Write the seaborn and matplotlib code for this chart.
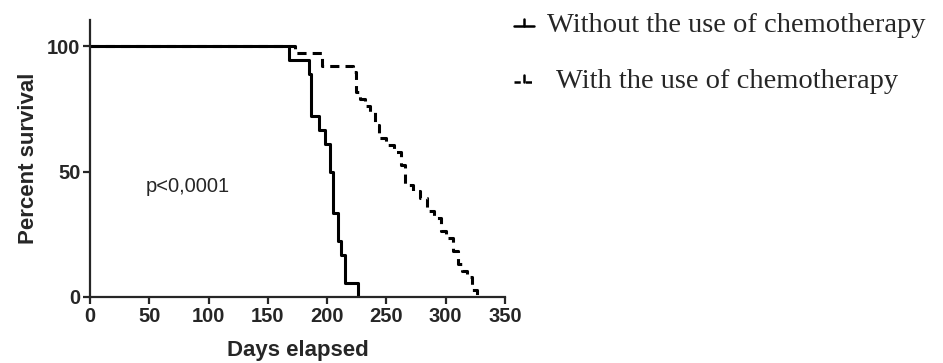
import numpy as np
import pandas as pd
import matplotlib
matplotlib.use("Agg")
import matplotlib.pyplot as plt
import seaborn as sns
from matplotlib.lines import Line2D

# --- data ---
days_without = [0, 168, 185, 186, 193, 198, 202, 205, 209, 212, 215, 218, 226]
surv_without = [100, 94.4, 88.9, 72.2, 66.7, 61.1, 50.0, 33.3, 22.2, 16.7, 5.6, 5.6, 0]

days_with = [0, 173, 196, 222, 224, 228, 232, 236, 240, 244, 250, 256, 262, 266, 272,
             278, 284, 290, 296, 300, 306, 310, 314, 318, 322, 326]
surv_with = [100, 97.4, 92.1, 89.5, 81.6, 78.9, 76.3, 73.7, 68.4, 63.2, 60.5, 57.9, 52.6,
             44.7, 42.1, 39.5, 34.2, 31.6, 26.3, 23.7, 18.4, 13.2, 10.5, 7.9, 2.6, 0]

labels = ["Without the use of chemotherapy", "With the use of chemotherapy"]
p_text = "p<0,0001"
xticks = [0, 50, 100, 150, 200, 250, 300, 350]
yticks = [0, 50, 100]

df = pd.concat([
    pd.DataFrame({"days": days_without, "surv": surv_without, "group": labels[0]}),
    pd.DataFrame({"days": days_with, "surv": surv_with, "group": labels[1]}),
])

sns.set_style("ticks")
plt.rcParams["font.family"] = ["Liberation Sans", "DejaVu Sans"]

W, H = 943, 363
fig = plt.figure(figsize=(W / 100, H / 100), dpi=100)
ax = fig.add_axes([90 / W, 1 - 297 / H, (505 - 90) / W, (297 - 20) / H])

sns.lineplot(data=df[df.group == labels[0]], x="days", y="surv", ax=ax,
             drawstyle="steps-post", color="black", lw=2.2, legend=False)
sns.lineplot(data=df[df.group == labels[1]], x="days", y="surv", ax=ax,
             drawstyle="steps-post", color="black", lw=2.2, legend=False)
ax.lines[1].set_linestyle((0, (3, 2)))

ax.set_xlim(0, 350)
ax.set_ylim(0, 110.4)
ax.set_xticks(xticks)
ax.set_yticks(yticks)
ax.set_xticklabels([str(t) for t in xticks], fontweight="bold", fontsize=14.5)
ax.set_yticklabels([str(t) for t in yticks], fontweight="bold", fontsize=14.5)
ax.set_xlabel("Days elapsed", fontweight="bold", fontsize=16, labelpad=10)
ax.set_ylabel("Percent survival", fontweight="bold", fontsize=16, labelpad=6)
for s in ["top", "right"]:
    ax.spines[s].set_visible(False)
for s in ["left", "bottom"]:
    ax.spines[s].set_linewidth(1.6)
ax.tick_params(width=1.6, length=5, pad=2)

ax.text(47, 42, p_text, fontsize=14.5)

# legend drawn in figure pixel positions
def fx(px):
    return px / W

def fy(py):
    return 1 - py / H

tick_len = 7
for (ly, ls, tx, lab) in [(26, "-", 547, labels[0]), (82, (0, (2.5, 2)), 556, labels[1])]:
    fig.add_artist(Line2D([fx(514), fx(534)], [fy(ly), fy(ly)], color="black", lw=1.8,
                          ls=ls, transform=fig.transFigure))
    fig.add_artist(Line2D([fx(524), fx(524)], [fy(ly), fy(ly - tick_len)], color="black",
                          lw=1.8, transform=fig.transFigure))
    fig.text(fx(tx), fy(ly), lab, family="Liberation Serif", fontsize=20.5, va="center",
             ha="left")

fig.savefig("out.png", dpi=100)
